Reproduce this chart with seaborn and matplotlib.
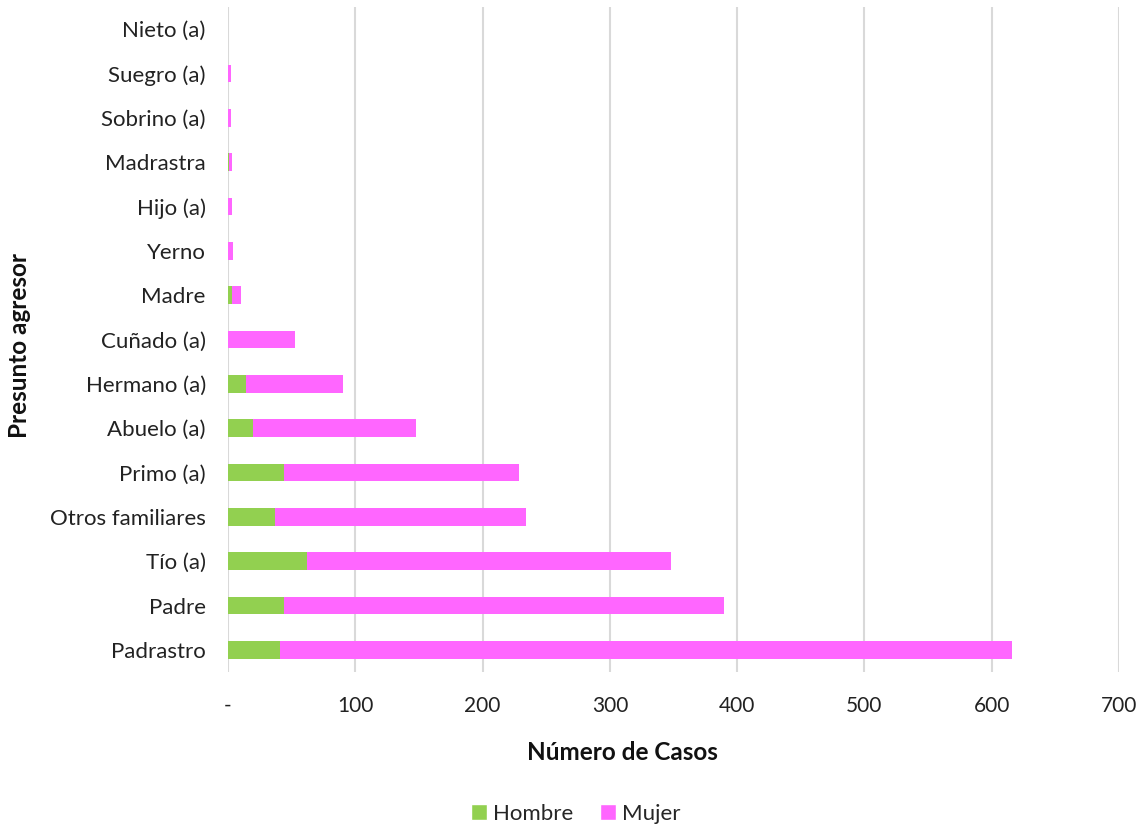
import matplotlib
matplotlib.use("Agg")
import matplotlib.pyplot as plt
import seaborn as sns
import pandas as pd
from matplotlib.patches import Patch

categorias = ["Nieto (a)", "Suegro (a)", "Sobrino (a)", "Madrastra", "Hijo (a)", "Yerno",
              "Madre", "Cuñado (a)", "Hermano (a)", "Abuelo (a)", "Primo (a)",
              "Otros familiares", "Tío (a)", "Padre", "Padrastro"]
hombre = [0, 0, 0, 1, 0, 0, 3, 0, 14, 20, 44, 37, 62, 44, 41]
mujer = [0, 2, 2, 2, 3, 4, 7, 53, 76, 128, 185, 197, 286, 346, 575]
xticks = [0, 100, 200, 300, 400, 500, 600, 700]
xticklabels = ["-", "100", "200", "300", "400", "500", "600", "700"]

df = pd.DataFrame({"cat": categorias, "Hombre": hombre, "Mujer": mujer})
df["Total"] = df["Hombre"] + df["Mujer"]

sns.set_theme(style="white")
plt.rcParams["font.family"] = ["Lato", "DejaVu Sans"]

green = "#92D050"
pink = "#FF66FF"

fig = plt.figure(figsize=(11.42, 8.26), dpi=100)
ax = fig.add_axes([228 / 1142, 1 - 672 / 826, (1119 - 228) / 1142, (672 - 7) / 826])

sns.barplot(data=df, y="cat", x="Total", order=categorias, color=pink, orient="h",
            width=0.4, saturation=1, ax=ax, linewidth=0)
sns.barplot(data=df, y="cat", x="Hombre", order=categorias, color=green, orient="h",
            width=0.4, saturation=1, ax=ax, linewidth=0)

ax.set_xlim(0, 700)
ax.set_ylim(14.5, -0.5)
ax.set_xticks(xticks)
ax.set_xticklabels(xticklabels, fontsize=15, color="#222222")
ax.tick_params(axis="y", labelsize=16, colors="#222222", length=0, pad=16)
ax.tick_params(axis="x", length=0, pad=17)
ax.xaxis.grid(True, color="#D9D9D9", linewidth=1.5)
ax.set_axisbelow(True)
for s in ax.spines.values():
    s.set_visible(False)

ax.set_xlabel("Número de Casos", fontsize=17.5, fontweight="bold", color="#111111")
ax.xaxis.set_label_coords((622 - 228) / (1119 - 228), -(741 - 672) / (672 - 7))
ax.set_ylabel("Presunto agresor", fontsize=17.5, fontweight="bold", color="#111111")
ax.yaxis.set_label_coords(-(228 - 31) / (1119 - 228), (672 - 345) / (672 - 7))

handles = [Patch(facecolor=green, label="Hombre"), Patch(facecolor=pink, label="Mujer")]
fig.legend(handles=handles, loc="center", bbox_to_anchor=(576 / 1142, 1 - 814 / 826), ncol=2,
           frameon=False, fontsize=16, handlelength=0.7, handleheight=0.7, columnspacing=1.2,
           handletextpad=0.3)

fig.savefig("out.png", dpi=100)
